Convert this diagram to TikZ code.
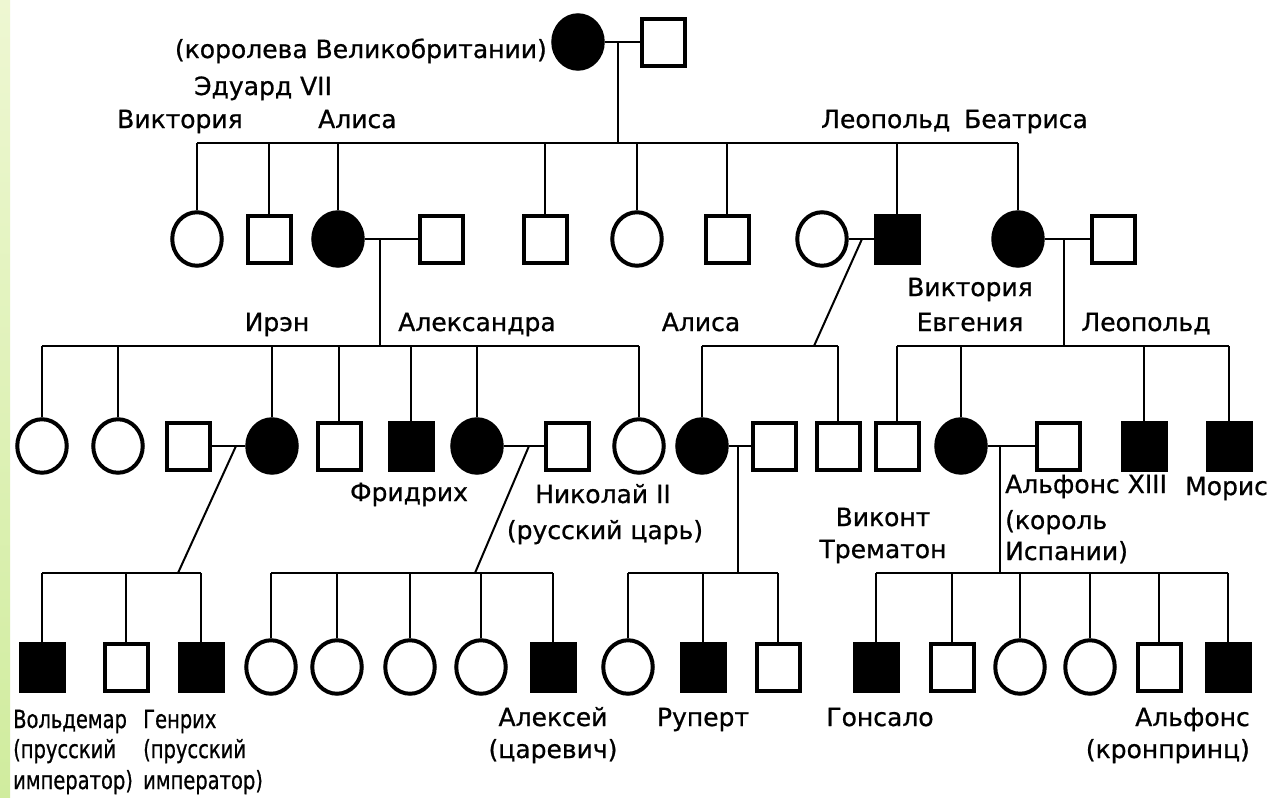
\documentclass[tikz,border=0pt]{standalone}
\usepackage{fontspec}
\usepackage{graphicx}
\setmainfont{DejaVu Sans}[FakeBold=0.8]
\usetikzlibrary{shapes.geometric}
\definecolor{gtop}{RGB}{238,247,210}
\definecolor{gbot}{RGB}{208,236,158}
\newcommand{\narrowtxt}[1]{\scalebox{0.78}[1]{#1}}
\begin{document}
\begin{tikzpicture}[x=1pt,y=-1pt,
 fem/.style={ellipse,draw,line width=4pt,minimum width=49.5pt,minimum height=53.5pt,inner sep=0pt},
 femA/.style={fem,fill=black},
 mal/.style={rectangle,draw,line width=4pt,minimum width=43pt,minimum height=47pt,inner sep=0pt},
 malA/.style={mal,fill=black},
 link/.style={line width=2pt},
 lbl/.style={font=\fontsize{25}{30}\selectfont,inner sep=0pt,anchor=base},
 lblw/.style={lbl,anchor=base west},
 lble/.style={lbl,anchor=base east},
]
\useasboundingbox (0,0) rectangle (1278,798);
\fill[white] (0,0) rectangle (1278,798);
\shade[top color=gtop,bottom color=gbot] (0,0) rectangle (10,798);

% generation I
\node[femA] (q) at (578,42) {};
\node[mal] (k) at (663,42) {};
% generation II
\foreach \n/\s/\x in {g2a/fem/197,g2b/mal/269,g2c/femA/338,g2cs/mal/441,g2d/mal/545,g2e/fem/637,g2f/mal/727,g2gs/fem/822,g2g/malA/897,g2h/femA/1018,g2hs/mal/1113}
  \node[\s] (\n) at (\x,239) {};
% generation III
\foreach \n/\s/\x in {g3a/fem/42,g3b/fem/118,g3cs/mal/188,g3c/femA/272,g3d/mal/339,g3e/malA/411,g3f/femA/477,g3fs/mal/567,g3g/fem/639,g3h/femA/702,g3hs/mal/774,g3i/mal/838,g3j/mal/897,g3k/femA/961,g3ks/mal/1058,g3l/malA/1144,g3m/malA/1229}
  \node[\s] (\n) at (\x,446) {};
% generation IV
\foreach \n/\s/\x in {g4a/malA/42,g4b/mal/126,g4c/malA/201,g4d/fem/271,g4e/fem/337,g4f/fem/410,g4g/fem/481,g4h/malA/553,g4i/fem/628,g4j/malA/703,g4k/mal/778,g4l/malA/876,g4m/mal/952,g4n/fem/1020,g4o/fem/1090,g4p/mal/1159,g4q/malA/1228}
  \node[\s] (\n) at (\x,667) {};

% junction coordinates
\coordinate (m1) at (618,42);   \coordinate (s2) at (618,143);
\coordinate (m2) at (380,239);  \coordinate (s3a) at (380,346);
\coordinate (m3) at (862,239);  \coordinate (s3b) at (814,346);
\coordinate (m4) at (1064,239); \coordinate (s3c) at (1064,346);
\coordinate (m5) at (236,446);  \coordinate (s4a) at (178,573);
\coordinate (m6) at (529,446);  \coordinate (s4b) at (475,573);
\coordinate (m7) at (738,446);  \coordinate (s4c) at (738,573);
\coordinate (m8) at (1000,446); \coordinate (s4d) at (1000,573);

% marriages
\draw[link] (q.east) -- (k.west);
\draw[link] (g2c.east) -- (g2cs.west);
\draw[link] (g2gs.east) -- (g2g.west);
\draw[link] (g2h.east) -- (g2hs.west);
\draw[link] (g3cs.east) -- (g3c.west);
\draw[link] (g3f.east) -- (g3fs.west);
\draw[link] (g3h.east) -- (g3hs.west);
\draw[link] (g3k.east) -- (g3ks.west);
% descents
\draw[link] (m1) -- (s2);
\draw[link] (m2) -- (s3a);
\draw[link] (m3) -- (s3b);
\draw[link] (m4) -- (s3c);
\draw[link] (m5) -- (s4a);
\draw[link] (m6) -- (s4b);
\draw[link] (m7) -- (s4c);
\draw[link] (m8) -- (s4d);
% sibships
\draw[link] (g2a.north |- s2) -- (g2h.north |- s2);
\foreach \n in {g2a,g2b,g2c,g2d,g2e,g2f,g2g,g2h} \draw[link] (\n.north) -- (\n.north |- s2);
\draw[link] (g3a.north |- s3a) -- (g3g.north |- s3a);
\foreach \n in {g3a,g3b,g3c,g3d,g3e,g3f,g3g} \draw[link] (\n.north) -- (\n.north |- s3a);
\draw[link] (g3h.north |- s3b) -- (g3i.north |- s3b);
\foreach \n in {g3h,g3i} \draw[link] (\n.north) -- (\n.north |- s3b);
\draw[link] (g3j.north |- s3c) -- (g3m.north |- s3c);
\foreach \n in {g3j,g3k,g3l,g3m} \draw[link] (\n.north) -- (\n.north |- s3c);
\draw[link] (g4a.north |- s4a) -- (g4c.north |- s4a);
\foreach \n in {g4a,g4b,g4c} \draw[link] (\n.north) -- (\n.north |- s4a);
\draw[link] (g4d.north |- s4b) -- (g4h.north |- s4b);
\foreach \n in {g4d,g4e,g4f,g4g,g4h} \draw[link] (\n.north) -- (\n.north |- s4b);
\draw[link] (g4i.north |- s4c) -- (g4k.north |- s4c);
\foreach \n in {g4i,g4j,g4k} \draw[link] (\n.north) -- (\n.north |- s4c);
\draw[link] (g4l.north |- s4d) -- (g4q.north |- s4d);
\foreach \n in {g4l,g4m,g4n,g4o,g4p,g4q} \draw[link] (\n.north) -- (\n.north |- s4d);

% labels
\node[lble] (t1) at (547,58) {(королева Великобритании)};
\node[lblw] (t2) at (194,95) {Эдуард VII};
\node[lblw] (t3) at (117,128) {Виктория};
\node[lblw] (t4) at (318,128) {Алиса};
\node[lblw] (t5) at (821,128) {Леопольд};
\node[lble] (t6) at (1088,128) {Беатриса};
\node[lbl] (t7) at (277,331) {Ирэн};
\node[lbl] (t8) at (477,331) {Александра};
\node[lbl] (t9) at (701,331) {Алиса};
\node[lbl] (t10) at (970,296) {Виктория};
\node[lbl] (t11) at (970,331) {Евгения};
\node[lbl] (t12) at (1146,331) {Леопольд};
\node[lbl] (t13) at (409,501) {Фридрих};
\node[lbl] (t14) at (603,503) {Николай II};
\node[lbl] (t15) at (605,539) {(русский царь)};
\node[lbl] (t16) at (883,526) {Виконт};
\node[lbl] (t17) at (883,558) {Трематон};
\node[lblw] (t18) at (1005,493) {Альфонс XIII};
\node[lblw] (t19) at (1005,529) {(король};
\node[lblw] (t20) at (1005,560) {Испании)};
\node[lblw] (t21) at (1185,495) {Морис};
\node[lblw] (t22) at (13,728) {\narrowtxt{Вольдемар}};
\node[lblw] (t23) at (13,758) {\narrowtxt{(прусский}};
\node[lblw] (t24) at (13,789) {\narrowtxt{император)}};
\node[lblw] (t25) at (143,728) {\narrowtxt{Генрих}};
\node[lblw] (t26) at (143,758) {\narrowtxt{(прусский}};
\node[lblw] (t27) at (143,789) {\narrowtxt{император)}};
\node[lbl] (t28) at (553,726) {Алексей};
\node[lbl] (t29) at (553,758) {(царевич)};
\node[lbl] (t30) at (703,726) {Руперт};
\node[lbl] (t31) at (880,726) {Гонсало};
\node[lble] (t32) at (1250,726) {Альфонс};
\node[lble] (t33) at (1250,758) {(кронпринц)};
\end{tikzpicture}
\end{document}
